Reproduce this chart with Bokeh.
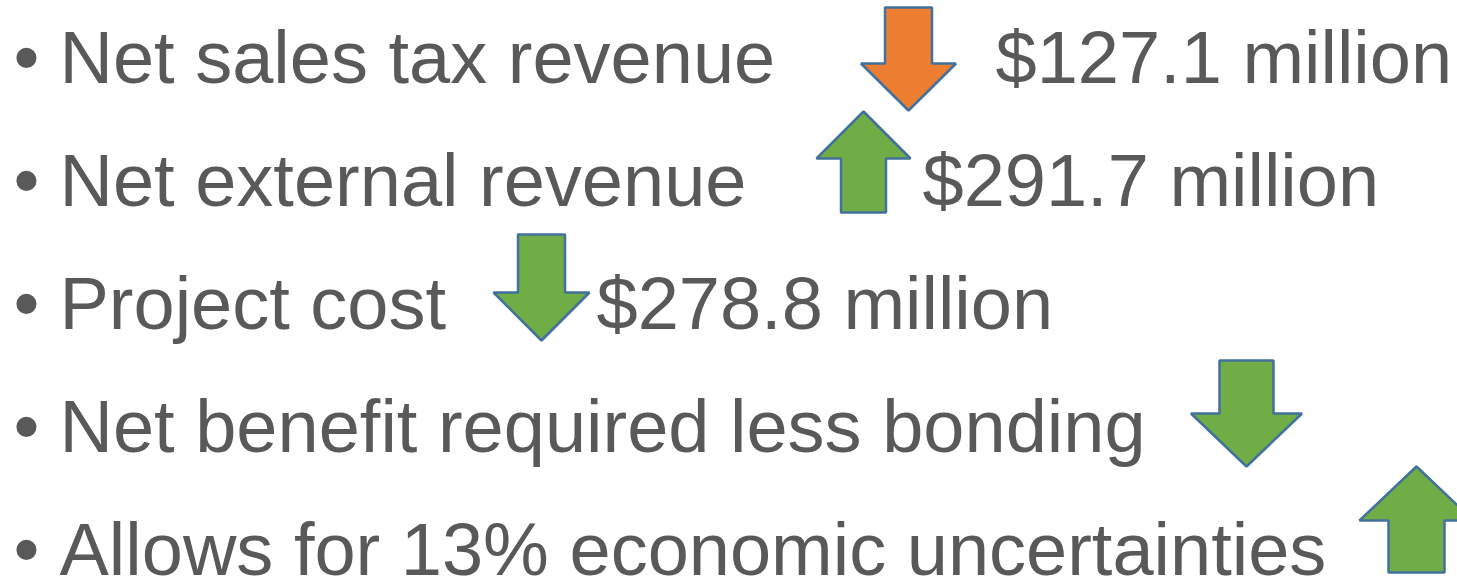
from bokeh.plotting import figure
from bokeh.models import Range1d, ColumnDataSource
from bokeh.core.properties import value
from bokeh.embed import file_html
from bokeh.resources import INLINE

# ---- data ----
labels = [
    "Net sales tax revenue",
    "Net external revenue",
    "Project cost",
    "Net benefit required less bonding",
    "Allows for 13% economic uncertainties",
]
amounts = ["$127.1 million", "$291.7 million", "$278.8 million", "", ""]
directions = ["down", "up", "down", "down", "up"]
favorable = [False, True, True, True, True]

# ---- layout (screen pixels) ----
W, H = 1457, 582
baselines = [83, 206, 329, 452, 575]
TEXT_SHIFT = -26
label_x = 59
bullet_x = 13
amount_x = [995, 922, 596, None, None]
arrow_cx = [908, 863, 541, 1246, 1416]
arrow_top = [7, 111, 234, 360, 466]
arrow_bot = [110, 212, 340, 466, 572]
arrow_w = [95, 94, 96, 111, 114]
shaft_w = [47, 45, 47, 54, 56]
head_h = [47, 47, 48, 53, 54]

TEXT_COLOR = "#595959"
GREEN = "#70AD47"
ORANGE = "#ED7D31"
OUTLINE = "#41719C"
FONT = "Liberation Sans"
SIZE = "74px"

p = figure(width=W, height=H, output_backend="svg", toolbar_location=None,
           x_range=Range1d(0, W), y_range=Range1d(H, 0),
           min_border=0, outline_line_color=None)
p.axis.visible = False
p.grid.visible = False
p.background_fill_color = "white"
p.border_fill_color = "white"

# arrows
xs, ys, fills = [], [], []
for i, d in enumerate(directions):
    cx, t, b = arrow_cx[i], arrow_top[i], arrow_bot[i]
    hw, sw, hh = arrow_w[i] / 2, shaft_w[i] / 2, head_h[i]
    if d == "down":
        sh = b - hh
        px = [cx - sw, cx + sw, cx + sw, cx + hw, cx, cx - hw, cx - sw]
        py = [t, t, sh, sh, b, sh, sh]
    else:
        sh = t + hh
        px = [cx, cx + hw, cx + sw, cx + sw, cx - sw, cx - sw, cx - hw]
        py = [t, sh, sh, b, b, sh, sh]
    xs.append(px)
    ys.append(py)
    fills.append(GREEN if favorable[i] else ORANGE)

p.patches(xs="xs", ys="ys", fill_color="fill", line_color=OUTLINE, line_width=2.5,
          source=ColumnDataSource(dict(xs=xs, ys=ys, fill=fills)))

ty = [b + TEXT_SHIFT for b in baselines]

# bullets
p.text(x=[bullet_x] * len(labels), y=ty, text=["\u2022"] * len(labels),
       text_font=value(FONT), text_font_size=SIZE, text_color=TEXT_COLOR,
       text_baseline="alphabetic", text_align="left")

# labels
p.text(x=[label_x] * len(labels), y=ty, text=labels,
       text_font=value(FONT), text_font_size=SIZE, text_color=TEXT_COLOR,
       text_baseline="alphabetic", text_align="left")

# amounts
ax, ay, at = [], [], []
for i, a in enumerate(amounts):
    if a:
        ax.append(amount_x[i]); ay.append(ty[i]); at.append(a)
p.text(x=ax, y=ay, text=at,
       text_font=value(FONT), text_font_size=SIZE, text_color=TEXT_COLOR,
       text_baseline="alphabetic", text_align="left")

open("out.html", "w").write(file_html(p, INLINE))
